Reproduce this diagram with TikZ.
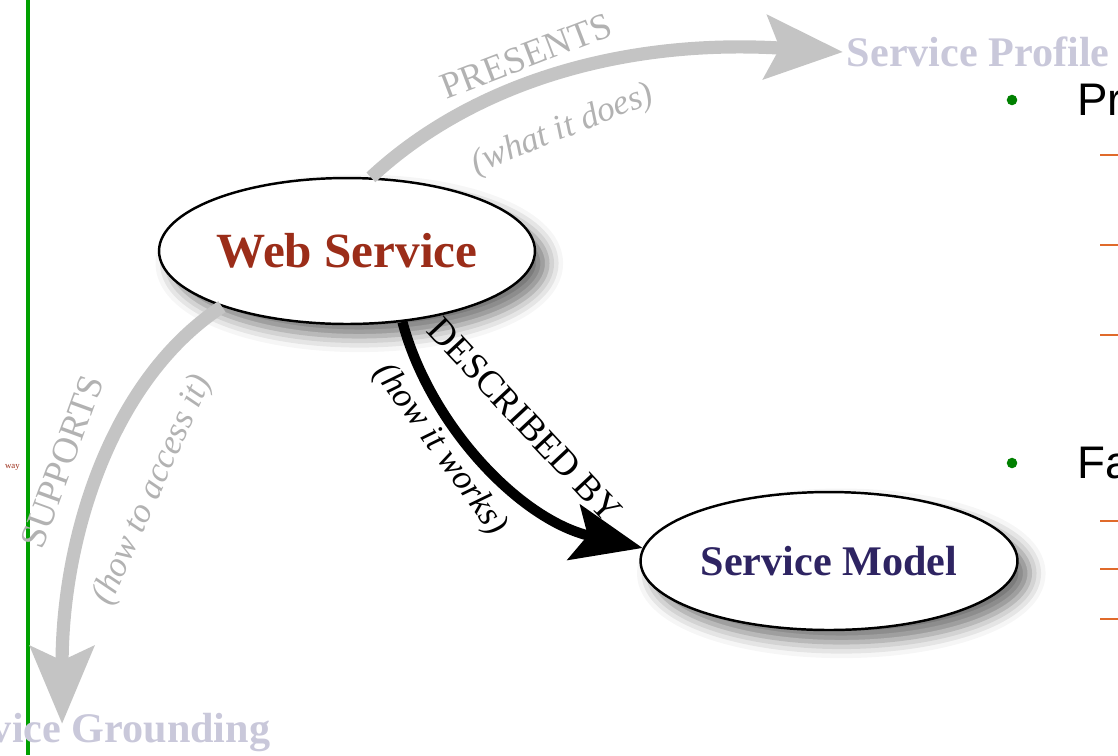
\documentclass[tikz,border=0pt]{standalone}
\usepackage{fontspec}
\setmainfont{Liberation Serif}
\setsansfont{Liberation Sans}
\usetikzlibrary{calc, arrows.meta, shapes.geometric, shadows.blur}
\definecolor{wsred}{RGB}{155,45,25}
\definecolor{smblue}{RGB}{46,36,98}
\definecolor{faint}{RGB}{201,200,218}
\definecolor{arrowgray}{RGB}{196,196,196}
\definecolor{labelgray}{RGB}{178,178,178}
\definecolor{slidegreen}{RGB}{0,160,0}
\definecolor{bulletgreen}{RGB}{0,128,0}
\definecolor{dashorange}{RGB}{224,106,42}
\tikzset{
  % Service ellipse
  snode/.style={draw, line width=1.4pt, fill=white, shape=ellipse, inner sep=0pt,
    blur shadow={shadow xshift=7pt, shadow yshift=-7pt, shadow blur radius=9pt,
      shadow opacity=55}},
  % Faint ontology title
  ftitle/.style={text=faint, font=\fontsize{24}{26}\selectfont\bfseries, inner sep=2pt},
  % Arrow labels
  rel/.style={font=\fontsize{21}{23}\selectfont},
  relnote/.style={font=\fontsize{20}{22}\selectfont\itshape},
  % Arrows
  grayarrow/.style={draw=arrowgray, line width=7.5pt,
    -{Stealth[width=36pt, length=44pt, inset=8pt]}},
  blackarrow/.style={draw=black, line width=5.8pt,
    -{Stealth[width=32pt, length=40pt, inset=8pt]}},
  % Slide bullets
  bullet/.style={circle, fill=bulletgreen, inner sep=0pt, minimum size=6pt},
  subdash/.style={draw=dashorange, line width=1.3pt},
  bigsans/.style={font=\fontsize{26}{28}\selectfont\sffamily, inner sep=0pt},
}

\begin{document}
\begin{tikzpicture}[x=0.02cm, y=-0.02cm]
  \useasboundingbox (0,0) rectangle (1118,755);
  \clip (0,0) rectangle (1118,755);

  % slide margin line
  \draw[slidegreen, line width=2pt] (28,0) coordinate (gtop) -- (28,755) coordinate (gbot);
  \node[anchor=east, text=wsred, font=\fontsize{5}{6}\selectfont, inner sep=0pt] (way) at (20,467) {way};

  % nodes
  \node[snode, minimum width=7.52cm, minimum height=2.92cm, text=wsred,
    font=\fontsize{28}{30}\selectfont\bfseries] (ws) at (347,251) {Web Service};
  \node[snode, minimum width=7.54cm, minimum height=2.76cm, text=smblue,
    font=\fontsize{24}{26}\selectfont\bfseries] (sm) at (829,561) {Service Model};
  \node[ftitle, anchor=west] (sp) at (843,52) {Service Profile};
  \node[ftitle, anchor=east] (sg) at (274,733) {Service Grounding};

  % relations
  \draw[grayarrow] (ws.72) .. controls (470,85) and (620,38) .. (sp.west);
  \draw[grayarrow] (ws.204) .. controls (110,380) and (62,540) .. ($(sg.north)+(-38,14)$);
  \draw[blackarrow] (ws.308) .. controls (430,425) and (520,520) .. (sm.176);

  \node[rel, text=labelgray, rotate=21] (presents) at (526,56) {PRESENTS};
  \node[relnote, text=labelgray, rotate=22] (does) at (563,130) {(what it does)};
  \node[rel, text=labelgray, rotate=70] (supports) at (62,462) {SUPPORTS};
  \node[relnote, text=labelgray, rotate=66] (access) at (153,490) {(how to access it)};
  \node[rel, rotate=-47] (described) at (525,420) {DESCRIBED BY};
  \node[relnote, rotate=-54] (works) at (440,450) {(how it works)};

  % slide text on the right
  \node[bullet] (b1) at (1012,100) {};
  \node[bigsans, anchor=west] (pr) at (1077,100) {Pr};
  \node[bullet] (b2) at (1012,463) {};
  \node[bigsans, anchor=west] (fa) at (1077,463) {Fa};
  \foreach \y in {155,245,335,521,569,619}
    \draw[subdash] (1100,\y) -- (1118,\y);
\end{tikzpicture}
\end{document}
